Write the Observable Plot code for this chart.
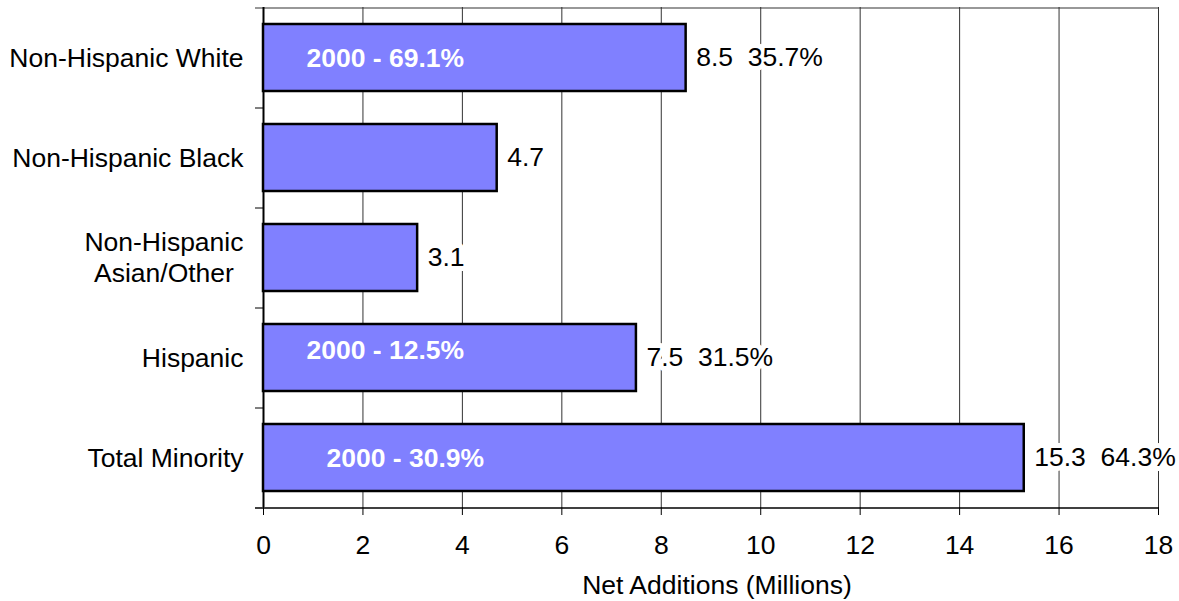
<!DOCTYPE html>
<html>
<head>
<meta charset="utf-8">
<script src="https://cdn.jsdelivr.net/npm/d3@7"></script>
<script src="https://cdn.jsdelivr.net/npm/@observablehq/plot@0.6"></script>
<style>
  html, body { margin: 0; padding: 0; background: #fff; }
</style>
</head>
<body>
<div id="chart"></div>
<script>
const categories = ["Non-Hispanic White", "Non-Hispanic Black", "Non-Hispanic\nAsian/Other", "Hispanic", "Total Minority"];
const values = [8.5, 4.7, 3.1, 7.5, 15.3];
const valueLabels = ["8.5  35.7%", "4.7", "3.1", "7.5  31.5%", "15.3  64.3%"];
const share2000 = ["2000 - 69.1%", null, null, "2000 - 12.5%", "2000 - 30.9%"];
const xTicks = [0, 2, 4, 6, 8, 10, 12, 14, 16, 18];
const xLabel = "Net Additions (Millions)";

const rows = categories.map((c, i) => ({cat: c, value: values[i], label: valueLabels[i], share: share2000[i]}));
const nb = s => s.replace(/ /g, "\u00a0");
const yText = c => c.includes("\n") ? c + "\u00a0\u200a" : c;

const chart = Plot.plot({
  width: 1179,
  height: 601,
  marginLeft: 263,
  marginRight: 21,
  marginTop: 7,
  marginBottom: 94,
  style: {fontFamily: "'Liberation Sans', Arial, sans-serif", fontSize: "26.5px", color: "#000", background: "#fff"},
  x: {domain: [0, 18], ticks: xTicks, tickSize: 8, tickPadding: 20, label: null},
  y: {domain: categories, paddingInner: 0.33, paddingOuter: 0.165, axis: null},
  marks: [
    Plot.ruleX(xTicks.slice(1), {stroke: "#333", strokeWidth: 1}),
    Plot.ruleY([categories[0]], {y: d => d, dy: -50, x1: 0, x2: 18, insetLeft: -8, stroke: "#333", strokeWidth: 1.2}),
    Plot.ruleY(categories.slice(1), {y: d => d, dy: -50, x1: 0, x2: 0, insetLeft: -8, stroke: "#000", strokeWidth: 1}),
    Plot.ruleY([categories[categories.length - 1]], {y: d => d, dy: 50, x1: 0, x2: 18, insetLeft: -8, stroke: "#000", strokeWidth: 1.5}),
    Plot.ruleX([0], {stroke: "#000", strokeWidth: 2}),
    Plot.barX(rows, {x: "value", y: "cat", fill: "#8080ff", stroke: "#000", strokeWidth: 2.5}),
    Plot.text(rows, {x: "value", y: "cat", text: d => nb(d.label), dx: 10, textAnchor: "start", fill: "#000", stroke: "#fff", strokeWidth: 10, strokeLinejoin: "round", paintOrder: "stroke"}),
    Plot.text(rows.filter(d => d.share && d.cat !== "Total Minority" && d.cat !== "Hispanic"), {x: 0, y: "cat", text: "share", dx: 43, dy: 1, textAnchor: "start", fill: "#fff", fontWeight: "bold"}),
    Plot.text(rows.filter(d => d.cat === "Hispanic"), {x: 0, y: "cat", text: "share", dx: 43, dy: -7, textAnchor: "start", fill: "#fff", fontWeight: "bold"}),
    Plot.text(rows.filter(d => d.cat === "Total Minority"), {x: 0, y: "cat", text: "share", dx: 63, dy: 1, textAnchor: "start", fill: "#fff", fontWeight: "bold"}),
    Plot.text(rows, {y: "cat", text: d => yText(d.cat), frameAnchor: "left", dx: -20, dy: -1, textAnchor: "end", lineHeight: 1.17, fill: "#000"}),
    Plot.text([xLabel], {text: d => d, frameAnchor: "bottom", dy: 78, lineAnchor: "middle", textAnchor: "middle", dx: 6, fill: "#000"})
  ]
});
document.getElementById("chart").appendChild(chart);
</script>
</body>
</html>
